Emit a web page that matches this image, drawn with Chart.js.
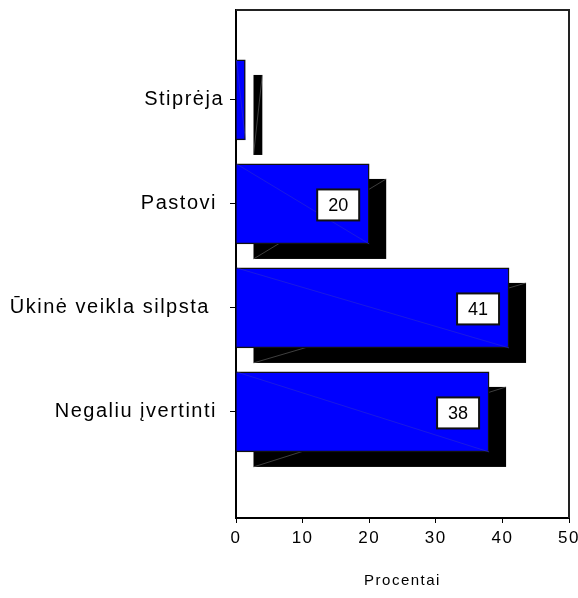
<!DOCTYPE html>
<html>
<head>
<meta charset="utf-8">
<script src="https://cdn.jsdelivr.net/npm/chart.js@4.4.1/dist/chart.umd.min.js"></script>
<style>
  html, body { margin: 0; padding: 0; background: #fff; }
  #wrap { width: 578px; height: 598px; }
</style>
</head>
<body>
<div id="wrap"><canvas id="bar_chart" width="578" height="598"></canvas></div>
<script>
const categories = ["Stiprėja", "Pastovi ", "Ūkinė veikla silpsta  ", "Negaliu įvertinti "];
const values = [1.4, 20, 41, 38];
const value_labels = ["", "20", "41", "38"];
const x_ticks = [0, 10, 20, 30, 40, 50];

const font_family = "'Liberation Sans', Arial, sans-serif";

// black offset shadow behind each bar, plus the thin diagonal streaks
const shadow_plugin = {
  id: "shadow",
  beforeDatasetsDraw(chart) {
    const ctx = chart.ctx;
    ctx.letterSpacing = "0px";
    const meta = chart.getDatasetMeta(0);
    ctx.save();
    meta.data.forEach(bar => {
      const top = bar.y - bar.height / 2 + 15;
      const left = bar.base + 17;
      const w = bar.x - bar.base;
      ctx.fillStyle = "#000";
      ctx.fillRect(left, top, w, bar.height);
      ctx.strokeStyle = "#6a6a6a";
      ctx.lineWidth = 0.6;
      ctx.beginPath();
      ctx.moveTo(left, top + bar.height);
      ctx.lineTo(left + w, top);
      ctx.stroke();
    });
    ctx.restore();
  },
  afterDatasetsDraw(chart) {
    const ctx = chart.ctx;
    const meta = chart.getDatasetMeta(0);
    ctx.save();
    meta.data.forEach((bar, i) => {
      const top = bar.y - bar.height / 2;
      ctx.strokeStyle = "#2a2ad0";
      ctx.lineWidth = 0.6;
      ctx.beginPath();
      ctx.moveTo(bar.base, top);
      ctx.lineTo(bar.x, top + bar.height);
      ctx.stroke();
      if (!value_labels[i]) return;
      const bw = 42, bh = 31;
      const bx = bar.x - 10 - bw;
      const by = bar.y - bh / 2 + 1;
      ctx.fillStyle = "#fff";
      ctx.fillRect(bx, by, bw, bh);
      ctx.strokeStyle = "#111";
      ctx.lineWidth = 2;
      ctx.strokeRect(bx, by, bw, bh);
      ctx.fillStyle = "#000";
      ctx.font = "18px " + font_family;
      ctx.textAlign = "center";
      ctx.textBaseline = "middle";
      ctx.fillText(value_labels[i], bx + bw / 2, by + bh / 2 + 1);
    });
    ctx.restore();
  },
  afterDraw(chart) {
    const {left, right, top, bottom} = chart.chartArea;
    const ctx = chart.ctx;
    ctx.save();
    ctx.strokeStyle = "#222";
    ctx.lineWidth = 2;
    ctx.beginPath();
    ctx.moveTo(left, top);
    ctx.lineTo(right, top);
    ctx.lineTo(right, bottom);
    ctx.stroke();
    ctx.restore();
  },
  beforeDraw(chart) {
    chart.ctx.letterSpacing = "1.5px";
  }
};

const bar_ctx = document.getElementById("bar_chart");

const bar_chart = new Chart(bar_ctx, {
  type: "bar",
  data: {
    datasets: [{
      data: values.map((v, i) => ({x: v, y: i})),
      backgroundColor: "#0000ff",
      borderColor: "#111",
      borderWidth: 1.5,
      borderSkipped: "start",
      barThickness: 80,
    }],
  },
  plugins: [shadow_plugin],
  options: {
    indexAxis: "y",
    responsive: false,
    animation: false,
    devicePixelRatio: 1,
    layout: { padding: { top: 10, right: 9, left: 0, bottom: 0 } },
    plugins: { legend: { display: false }, tooltip: { enabled: false } },
    scales: {
      x: {
        type: "linear",
        min: 0,
        max: 50,
        afterBuildTicks: scale => { scale.ticks = x_ticks.map(v => ({value: v})); },
        afterFit: scale => {
          scale.height = 80;
          scale.paddingLeft = 0;
          scale.paddingRight = 0;
        },
        grid: { drawOnChartArea: false, tickLength: 5, color: "#000", lineWidth: 1 },
        border: { display: true, color: "#000", width: 2 },
        ticks: { color: "#000", padding: 5, font: { family: font_family, size: 17 } },
        title: {
          display: true,
          text: "Procentai",
          color: "#000",
          padding: { bottom: 8 },
          font: { family: font_family, size: 15 },
        },
      },
      y: {
        type: "linear",
        reverse: true,
        offset: false,
        min: -0.865,
        max: 4.02,
        afterBuildTicks: scale => { scale.ticks = categories.map((c, i) => ({value: i})); },
        afterFit: scale => {
          scale.width = 236;
          scale.paddingTop = 0;
          scale.paddingBottom = 0;
        },
        grid: { offset: false, drawOnChartArea: false, tickLength: 6, color: "#000", lineWidth: 1 },
        border: { display: true, color: "#000", width: 2 },
        ticks: {
          color: "#000",
          padding: 6,
          font: { family: font_family, size: 20 },
          callback: v => categories[v],
        },
      },
    },
  },
});
</script>
</body>
</html>
